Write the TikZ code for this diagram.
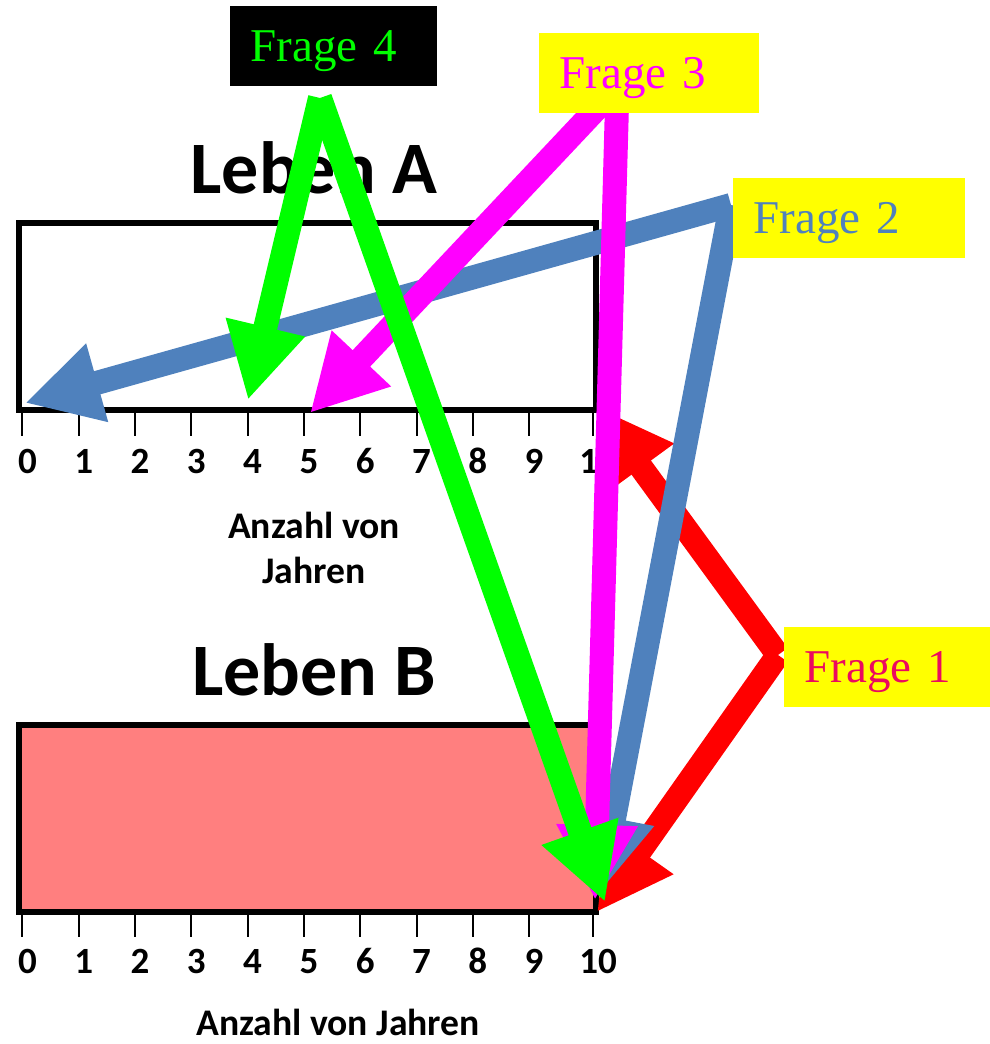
\documentclass[tikz,border=0pt]{standalone}
\usepackage{fontspec}
\setmainfont{Liberation Serif}
\newfontfamily\calfont{Carlito}
\usetikzlibrary{arrows.meta}
\definecolor{qgreen}{RGB}{0,255,0}
\definecolor{qmag}{RGB}{255,0,255}
\definecolor{qblue}{RGB}{79,129,189}
\definecolor{qred}{RGB}{255,0,0}
\definecolor{qyel}{RGB}{255,255,0}
\definecolor{qpink}{RGB}{255,127,127}
\definecolor{qtextone}{RGB}{235,10,95}
\begin{document}
\begin{tikzpicture}[x=0.5pt,y=-0.5pt,
 lifebox/.style={draw=black, line width=3pt, minimum width=288.75pt, minimum height=93.5pt, inner sep=0pt},
 tickline/.style={line width=1pt, black},
 ticklabel/.style={font=\calfont\bfseries\fontsize{18.5}{20}\selectfont, anchor=base},
 lebentitle/.style={font=\calfont\bfseries\fontsize{37}{40}\selectfont, anchor=base},
 axislabel/.style={font=\calfont\bfseries\fontsize{18.8}{22}\selectfont, anchor=base},
 qarrow/.style={line width=12pt, -{Triangle[length=37.5pt,width=38pt]}},
 qbox/.style={anchor=north west, inner xsep=10pt, inner ysep=0pt, minimum height=40pt, text depth=0pt, align=left, font=\fontsize{23.5}{26}\selectfont},
]
\useasboundingbox (0,0) rectangle (990,1044);

% Leben A
\node[lebentitle] (titleA) at (314,193) {Leben A};
\node[lifebox] (boxA) at (307.25,316) {};
% Leben B
\node[lebentitle] (titleB) at (314,695) {Leben B};
\node[lifebox, fill=qpink] (boxB) at (307.25,818) {};

\foreach \i/\tx in {0/22.4, 1/78.7, 2/135, 3/191.3, 4/247.6, 5/303.9, 6/360.2, 7/416.5, 8/472.8, 9/529.1, 10/593} {
  \draw[tickline] (\tx,412) -- (\tx,436);
  \node[ticklabel] (ta\i) at (\tx+5,473) {\i};
  \draw[tickline] (\tx,913) -- (\tx,937);
  \node[ticklabel] (tb\i) at (\tx+5,973) {\i};
}

\node[axislabel] (axA1) at (314,538) {Anzahl von};
\node[axislabel] (axA2) at (314,583) {Jahren};
\node[axislabel] (axB) at (338,1035) {Anzahl von Jahren};

% arrow end points
\coordinate (r0) at (778,655);
\coordinate (rA) at (597,407);
\coordinate (rB) at (597,912);
\coordinate (b0) at (731,205);
\coordinate (bA) at (25,403);
\coordinate (bB) at (600,892);
\coordinate (m1) at (601,104);
\coordinate (m2) at (617,104);
\coordinate (mA) at (310,413);
\coordinate (mB) at (595,900);
\coordinate (g0) at (320,98);
\coordinate (gA) at (248,400);
\coordinate (gB) at (605,902);

\draw[qarrow, qred] (r0) -- (rA);
\draw[qarrow, qred] (r0) -- (rB);
\draw[qarrow, qblue] (b0) -- (bA);
\draw[qarrow, qblue] (b0) -- (bB);
\draw[qarrow, qmag] (m1) -- (mA);
\draw[qarrow, qmag] (m2) -- (mB);
\draw[qarrow, qgreen] (g0) -- (gA);
\draw[qarrow, qgreen] (g0) -- (gB);

% question labels
\node[qbox, fill=black, text=qgreen, text width=83.5pt] (f4) at (230,6) {Frage 4};
\node[qbox, fill=qyel, text=qmag, text width=90pt] (f3) at (539,33) {Frage 3};
\node[qbox, fill=qyel, text=qblue, text width=96pt] (f2) at (733,178) {Frage 2};
\node[qbox, fill=qyel, text=qtextone, text width=83pt] (f1) at (784,627) {Frage 1};
\end{tikzpicture}
\end{document}
